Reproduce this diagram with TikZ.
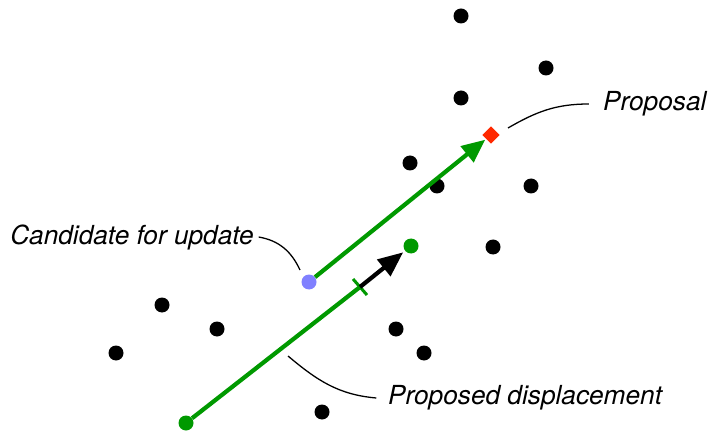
\documentclass[tikz,border=0pt]{standalone}
\usepackage{fontspec}
\setmainfont{TeX Gyre Heros}
\usetikzlibrary{arrows.meta,shapes.geometric}

\definecolor{mcgreen}{RGB}{0,153,0}
\definecolor{mcblue}{RGB}{128,128,255}
\definecolor{mcred}{RGB}{255,40,0}

\tikzset{
  walker/.style={circle,fill=black,inner sep=0pt,minimum size=0.45cm},
  label/.style={font=\fontsize{22.4}{26}\selectfont\itshape,inner sep=0pt},
  leader/.style={line width=1.1pt},
  move/.style={mcgreen,line width=3.6pt},
}

\begin{document}
\begin{tikzpicture}[x=0.03cm,y=-0.03cm]
        \useasboundingbox (0,0) rectangle (709,431);
        % the other walkers
        \foreach \px/\py [count=\i] in {461/16,546/68,461/98,410/163,437/186,531/186,493/247,
                162/305,217/329,116/353,396/329,424/353,322/412}
                \node[walker] (w\i) at (\px,\py) {};
        % candidate and proposal
        \node[walker,fill=mcblue] (cand) at (309,282) {};
        \node[diamond,fill=mcred,inner sep=0pt,minimum size=0.52cm] (prop) at (491,135) {};
        \draw[move,-{Triangle[length=0.7cm,width=0.6cm]},shorten >=1pt] (cand) -- (prop);
        % displacement between two walkers
        \node[walker,fill=mcgreen] (from) at (186,423) {};
        \node[walker,fill=mcgreen] (to) at (411,246) {};
        \coordinate (tick) at (360,287);
        \draw[move] (from) -- (tick);
        \draw[mcgreen,line width=2.6pt] ([shift={(-7,-8)}]tick) -- ([shift={(7,8)}]tick);
        \draw[black,line width=3.6pt,-{Triangle[length=0.75cm,width=0.62cm]},shorten >=2pt] (tick) -- (to);
        % labels
        \node[label,anchor=east] (lcand) at (254,237) {Candidate for update};
        \node[label,anchor=west] (lprop) at (603,104) {Proposal};
        \node[label,anchor=west] (ldisp) at (388,398) {Proposed displacement};
        \coordinate (ccand) at (300,270);
        \coordinate (cprop) at (508,128);
        \coordinate (cdisp) at (288,356);
        \draw[leader] ([xshift=4]lcand.east) to[out=-10,in=115] (ccand);
        \draw[leader] ([xshift=-12]lprop.west) to[out=180,in=30] (cprop);
        \draw[leader] ([xshift=-10]ldisp.west) to[out=175,in=-40] (cdisp);
\end{tikzpicture}
\end{document}
